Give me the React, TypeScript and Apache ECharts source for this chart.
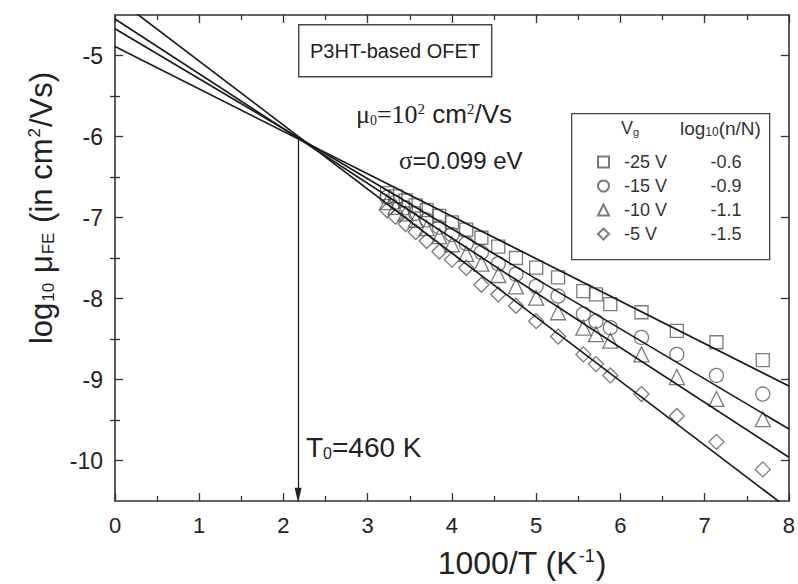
import React, { useEffect, useRef } from "react";
import * as echarts from "echarts";

// 1000/T values (K^-1)
const invT = [3.23, 3.33, 3.45, 3.57, 3.70, 3.85, 4.00, 4.17, 4.35, 4.55, 4.76, 5.00, 5.26, 5.56, 5.71, 5.88, 6.25, 6.67, 7.14, 7.69];
// log10 mobility, per gate voltage
const mu25 = [-6.70, -6.74, -6.79, -6.85, -6.91, -6.98, -7.06, -7.15, -7.25, -7.36, -7.50, -7.62, -7.74, -7.91, -7.95, -8.07, -8.17, -8.40, -8.54, -8.76];
const mu15 = [-6.75, -6.81, -6.88, -6.95, -7.03, -7.12, -7.21, -7.32, -7.43, -7.57, -7.70, -7.85, -7.97, -8.19, -8.28, -8.36, -8.48, -8.69, -8.95, -9.18];
const mu10 = [-6.81, -6.87, -6.95, -7.03, -7.13, -7.23, -7.33, -7.45, -7.57, -7.71, -7.85, -7.99, -8.17, -8.36, -8.44, -8.52, -8.69, -8.97, -9.24, -9.49];
const mu5 = [-6.91, -6.99, -7.08, -7.18, -7.29, -7.42, -7.52, -7.62, -7.83, -7.95, -8.09, -8.28, -8.47, -8.69, -8.81, -8.95, -9.18, -9.45, -9.77, -10.11];

// fitted straight lines: values at 1000/T = 0 and 8
const fitX = [0, 8];
const fit25 = [-4.89, -9.08];
const fit15 = [-4.67, -9.61];
const fit10 = [-4.55, -9.96];
const fit5 = [-4.28, -10.6];

const vgNames = ["-25 V", "-15 V", "-10 V", "-5 V"];
const logNN = ["-0.6", "-0.9", "-1.1", "-1.5"];
const symbols = ["rect", "circle", "triangle", "diamond"];
const symbolSizes = [13, 14, 15, 15];

const T0 = 460;
const arrowTop = -6;
const arrowBottom = -10.43;

const xRange = { min: 0, max: 8, interval: 1 };
const yRange = { min: -10.5, max: -4.5 };
const yMajorTicks = [-10, -9, -8, -7, -6, -5];
const yMinorTicks = [-9.5, -8.5, -7.5, -6.5, -5.5];

const SANS = "'Liberation Sans', Arial, Helvetica, sans-serif";
const SERIF = "'Liberation Serif', 'Times New Roman', serif";
const INK = "#222";

export default function App() {
  const ref = useRef<HTMLDivElement>(null);
  useEffect(() => {
    if (!ref.current) return;
    const chart = echarts.init(ref.current, undefined, { renderer: "svg" });
    const dataSets = [mu25, mu15, mu10, mu5];
    const fits = [fit25, fit15, fit10, fit5];
    const scatterSeries = dataSets.map((d, i) => ({
      type: "scatter",
      name: vgNames[i],
      symbol: symbols[i],
      symbolSize: symbolSizes[i],
      data: invT.map((x, j) => [x, d[j]]),
      itemStyle: { color: "rgba(255,255,255,0)", borderColor: "#5a5a5a", borderWidth: 1.3 },
      z: 3,
    }));
    const lineSeries = fits.map((f, i) => ({
      type: "line",
      name: "fit" + i,
      data: fitX.map((x, j) => [x, f[j]]),
      symbol: "none",
      lineStyle: { color: "#1a1a1a", width: 1.7 },
      clip: true,
      silent: true,
      z: 4,
    }));
    const lineStyle = { color: "#333", width: 1.6 };
    const tickStyle = { color: "#333", width: 1.3 };
    const xCommon = {
      type: "value",
      ...xRange,
      axisLine: { show: true, onZero: false, lineStyle },
      axisTick: { show: true, inside: true, length: 8, lineStyle: tickStyle },
      minorTick: { show: true, splitNumber: 2, length: 5, lineStyle: tickStyle },
      splitLine: { show: false },
      minorSplitLine: { show: false },
    };
    const yMajor = (pos: string, showLabel: boolean, extra: any = {}) => ({
      type: "value",
      ...yRange,
      position: pos,
      axisLine: { show: true, onZero: false, lineStyle },
      axisTick: { show: true, inside: true, length: 8, lineStyle: tickStyle, customValues: yMajorTicks },
      axisLabel: showLabel
        ? { show: true, fontSize: 23, fontFamily: SANS, color: INK, margin: 12, customValues: yMajorTicks }
        : { show: false },
      splitLine: { show: false },
      ...extra,
    });
    const yMinor = (pos: string) => ({
      type: "value",
      ...yRange,
      position: pos,
      axisLine: { show: false },
      axisTick: { show: true, inside: true, length: 5, lineStyle: tickStyle, customValues: yMinorTicks },
      axisLabel: { show: false },
      splitLine: { show: false },
    });
    chart.setOption({
      animation: false,
      backgroundColor: "#fff",
      grid: { left: 115, top: 15, right: 6, bottom: 82, containLabel: false },
      xAxis: [
        {
          ...xCommon,
          position: "bottom",
          name: "{t|1000/T (K}{p|-1}{t|)}",
          nameLocation: "middle",
          nameGap: 46,
          nameTextStyle: {
            padding: [0, 0, 0, 140],
            rich: {
              t: { fontSize: 32, fontFamily: SANS, color: INK },
              p: { fontSize: 18, fontFamily: SANS, color: INK, verticalAlign: "top", padding: [0, 1, 0, 1] },
            },
          },
          axisLabel: { fontSize: 22, fontFamily: SANS, color: INK, margin: 13 },
        },
        {
          ...xCommon,
          position: "top",
          axisLabel: { show: false },
        },
      ],
      yAxis: [
        yMajor("left", true, {
          name: "{t|log}{s|10}{t| μ}{s|FE}{t| (in cm}{p|2}{t|/Vs)}",
          nameLocation: "middle",
          nameGap: 58,
          nameRotate: 90,
          nameTextStyle: {
            padding: [0, 0, 0, 100],
            rich: {
              t: { fontSize: 31, fontFamily: SANS, color: INK },
              s: { fontSize: 17, fontFamily: SANS, color: INK, verticalAlign: "bottom", padding: [0, 1, 0, 1] },
              p: { fontSize: 17, fontFamily: SANS, color: INK, verticalAlign: "top", padding: [0, 1, 0, 1] },
            },
          },
        }),
        yMinor("left"),
        yMajor("right", false),
        yMinor("right"),
      ],
      legend: {
        data: vgNames,
        orient: "vertical",
        left: 592,
        top: 148,
        itemWidth: 11,
        itemHeight: 11,
        itemGap: 6,
        selectedMode: false,
        formatter: (name: string) => {
          const i = vgNames.indexOf(name);
          return `{a|${name}}{b|${logNN[i]}}`;
        },
        textStyle: {
          rich: {
            a: { fontSize: 18, fontFamily: SANS, color: "#333", width: 60, padding: [0, 0, 0, 10], lineHeight: 19 },
            b: { fontSize: 18, fontFamily: SANS, color: "#333", width: 84, align: "center", lineHeight: 19 },
          },
        },
      },
      graphic: [
        {
          type: "rect",
          left: 298,
          top: 24,
          shape: { width: 193, height: 52 },
          style: { fill: "#fff", stroke: "#444", lineWidth: 1.4 },
          z: 10,
        },
        {
          type: "text",
          x: 395,
          y: 51,
          style: {
            text: "P3HT-based OFET",
            fontSize: 20,
            fontFamily: SANS,
            fill: INK,
            align: "center",
            verticalAlign: "middle",
          },
          z: 11,
        },
        {
          type: "text",
          left: 356,
          top: 101,
          style: {
            text: "{g|μ}{s|0}{g|=10}{p|2}{t| cm}{p|2}{t|/Vs}",
            rich: {
              g: { fontSize: 26, fontFamily: SERIF, fill: INK },
              s: { fontSize: 14, fontFamily: SERIF, fill: INK, verticalAlign: "bottom" },
              p: { fontSize: 15, fontFamily: SERIF, fill: INK, verticalAlign: "top" },
              t: { fontSize: 26, fontFamily: SANS, fill: INK },
            },
          },
          z: 11,
        },
        {
          type: "text",
          left: 399,
          top: 148,
          style: {
            text: "{g|σ}{t|=0.099 eV}",
            rich: {
              g: { fontSize: 25, fontFamily: SERIF, fill: INK },
              t: { fontSize: 24, fontFamily: SANS, fill: INK },
            },
          },
          z: 11,
        },
        {
          type: "text",
          left: 306,
          top: 433,
          style: {
            text: "{t|T}{s|0}{t|=460 K}",
            rich: {
              t: { fontSize: 28, fontFamily: SANS, fill: INK },
              s: { fontSize: 16, fontFamily: SANS, fill: INK, verticalAlign: "bottom" },
            },
          },
          z: 11,
        },
        {
          type: "rect",
          left: 571,
          top: 113,
          shape: { width: 198, height: 146 },
          style: { fill: "#fff", stroke: "#444", lineWidth: 1.3 },
          z: 1,
        },
        {
          type: "text",
          left: 621,
          top: 119,
          style: {
            text: "{t|V}{s|g}",
            rich: {
              t: { fontSize: 18, fontFamily: SANS, fill: "#333" },
              s: { fontSize: 11, fontFamily: SANS, fill: "#333", verticalAlign: "bottom" },
            },
          },
          z: 11,
        },
        {
          type: "text",
          left: 680,
          top: 119,
          style: {
            text: "{t|log}{s|10}{t|(n/N)}",
            rich: {
              t: { fontSize: 19, fontFamily: SANS, fill: "#333" },
              s: { fontSize: 12, fontFamily: SANS, fill: "#333", verticalAlign: "bottom" },
            },
          },
          z: 11,
        },
      ],
      series: [
        ...scatterSeries,
        ...lineSeries,
        {
          type: "line",
          name: "arrow",
          data: [],
          silent: true,
          markLine: {
            silent: true,
            animation: false,
            label: { show: false },
            lineStyle: { color: INK, width: 1.3, type: "solid" },
            data: [
              [
                { coord: [1000 / T0, arrowTop], symbol: "none" },
                { coord: [1000 / T0, arrowBottom], symbol: "triangle", symbolSize: [7, 15] },
              ],
            ],
          },
        },
      ],
    });
    return () => chart.dispose();
  }, []);
  return <div ref={ref} style={{ width: 798, height: 584, position: "absolute", left: 0, top: 0 }} />;
}
